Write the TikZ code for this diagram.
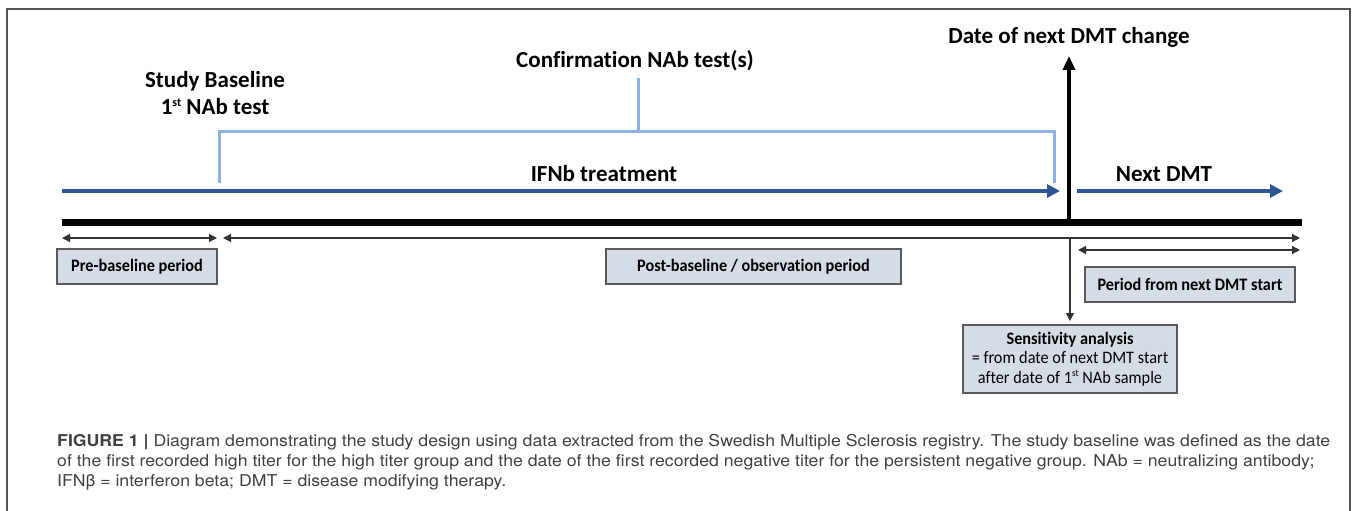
\documentclass[tikz,border=0pt]{standalone}
\usepackage{fontspec}
\setmainfont{Carlito}[Ligatures={NoCommon}]
\newfontfamily\boxfont{Carlito}[Ligatures={NoCommon},FakeStretch=0.93]
\newfontfamily\capfont{TeX Gyre Heros}[FakeStretch=1.085]
\usetikzlibrary{arrows.meta}
\definecolor{dblue}{HTML}{2F5597}
\definecolor{lblue}{HTML}{8EB2E2}
\definecolor{boxfill}{HTML}{D6DCE6}
\definecolor{boxdraw}{HTML}{5A5A5A}
\definecolor{captxt}{HTML}{404040}
\definecolor{framec}{HTML}{555555}
\newcommand{\supst}[1]{\raisebox{0.75ex}{\fontsize{12}{12}\selectfont #1}}
\newcommand{\supsm}[1]{\raisebox{0.75ex}{\fontsize{10}{10}\selectfont #1}}
\tikzset{
  toplabel/.style={font=\bfseries\fontsize{23}{26}\selectfont, inner sep=0pt, align=center},
  periodbox/.style={draw=boxdraw, line width=1.2pt, fill=boxfill, inner sep=0pt,
    font=\boxfont\bfseries\fontsize{17.5}{20}\selectfont, align=center},
  bluearrow/.style={draw=dblue, line width=3.2pt, -{Triangle[length=13pt,width=13pt]}},
  bracketline/.style={draw=lblue, line width=3pt},
  thinarrow/.style={draw=black!80, line width=1.2pt},
  capline/.style={font=\capfont\fontsize{16.3}{19}\selectfont, text=captxt, anchor=west, inner sep=0pt}
}
\begin{document}
\begin{tikzpicture}[x=1pt,y=-1pt]
\useasboundingbox (0,0) rectangle (1357,511);
% frame
\draw[framec, line width=2pt] (7,511) -- (7,9) -- (1350,9) -- (1350,511);
% coordinates
\coordinate (bs) at (62,191);
\coordinate (be) at (1060,191);
\coordinate (ns) at (1077,191);
\coordinate (ne) at (1283,191);
\coordinate (tl) at (62,222);
\coordinate (tr) at (1302,222);
\coordinate (vb) at (1069,222);
\coordinate (vt) at (1069,56);
\coordinate (k1) at (219,183);
\coordinate (k2) at (219,131);
\coordinate (k3) at (1054,131);
\coordinate (k4) at (1054,183);
\coordinate (sm) at (638,131);
\coordinate (st) at (638,78);
\coordinate (a1) at (62,238);
\coordinate (a2) at (217,238);
\coordinate (a3) at (223,238);
\coordinate (a4) at (1300,238);
\coordinate (d1) at (1070,238);
\coordinate (d2) at (1070,321);
\coordinate (c1) at (1078,250);
\coordinate (c2) at (1300,250);
% main timeline
\draw[line width=7pt] (tl) -- (tr);
% treatment arrows
\draw[bluearrow] (bs) -- (be);
\draw[bluearrow] (ns) -- (ne);
% bracket
\draw[bracketline] (k1) -- (k2) -- (k3) -- (k4);
\draw[bracketline] (sm) -- (st);
% vertical arrow
\draw[line width=3.5pt, -{Triangle[length=14pt,width=12pt]}] (vb) -- (vt);
% labels
\node[toplabel] (dmtchange) at (1069,37) {Date of next DMT change};
\node[toplabel] (conf) at (635,61) {Confirmation NAb test(s)};
\node[toplabel] (sb) at (215,81) {Study Baseline};
\node[toplabel] (nab1) at (215,107) {1\supst{st} NAb test};
\node[toplabel] (ifnb) at (604,174) {IFNb treatment};
\node[toplabel] (nextdmt) at (1164,174) {Next DMT};
% thin arrows
\draw[thinarrow, {Triangle[length=8pt,width=8pt]}-{Triangle[length=8pt,width=8pt]}] (a1) -- (a2);
\draw[thinarrow, {Triangle[length=8pt,width=8pt]}-{Triangle[length=8pt,width=8pt]}] (a3) -- (a4);
\draw[thinarrow, -{Triangle[length=8pt,width=8pt]}] (d1) -- (d2);
\draw[thinarrow, {Triangle[length=8pt,width=8pt]}-{Triangle[length=8pt,width=8pt]}] (c1) -- (c2);
% boxes
\node[periodbox, minimum width=160pt, minimum height=35pt] (pre) at (137,266.5) {Pre-baseline period};
\node[periodbox, minimum width=295pt, minimum height=35pt] (post) at (753.5,266.5) {Post-baseline / observation period};
\node[periodbox, minimum width=210pt, minimum height=35pt] (per) at (1190,284.5) {Period from next DMT start};
\node[periodbox, minimum width=214pt, minimum height=68pt, font=\boxfont\fontsize{17.5}{19.5}\selectfont] (sens) at (1070,359)
  {\textbf{Sensitivity analysis}\\= from date of next DMT start\\after date of 1\supsm{st} NAb sample};
% caption
\node[capline] (cap1) at (57,442) {\textbf{FIGURE 1 |} Diagram demonstrating the study design using data extracted from the Swedish Multiple Sclerosis registry. The study baseline was defined as the date};
\node[capline] (cap2) at (57,462) {of the first recorded high titer for the high titer group and the date of the first recorded negative titer for the persistent negative group. NAb = neutralizing antibody;};
\node[capline] (cap3) at (57,482) {IFNβ = interferon beta; DMT = disease modifying therapy.};
\end{tikzpicture}
\end{document}
